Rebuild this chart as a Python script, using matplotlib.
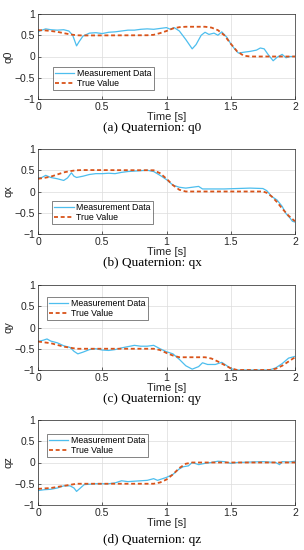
import matplotlib
matplotlib.use("Agg")
import matplotlib.pyplot as plt
import numpy as np

# ---- data ----
t_q0_meas = [0, 0.03, 0.06, 0.10, 0.15, 0.20, 0.24, 0.27, 0.30, 0.32, 0.35, 0.40, 0.45, 0.50, 0.55, 0.60, 0.65, 0.70, 0.75, 0.80, 0.85, 0.90, 0.95, 1.00, 1.03, 1.06, 1.10, 1.15, 1.20, 1.23, 1.27, 1.30, 1.33, 1.37, 1.40, 1.43, 1.47, 1.50, 1.53, 1.56, 1.60, 1.65, 1.70, 1.73, 1.76, 1.79, 1.83, 1.86, 1.90, 1.93, 1.96, 2.00]
q0_meas = [0.58, 0.62, 0.65, 0.63, 0.62, 0.63, 0.60, 0.50, 0.25, 0.35, 0.48, 0.55, 0.56, 0.54, 0.57, 0.58, 0.60, 0.62, 0.62, 0.64, 0.65, 0.64, 0.66, 0.68, 0.64, 0.68, 0.60, 0.40, 0.18, 0.28, 0.50, 0.57, 0.52, 0.55, 0.50, 0.58, 0.45, 0.30, 0.18, 0.08, 0.10, 0.12, 0.15, 0.20, 0.18, 0.05, -0.10, -0.02, 0.05, -0.03, 0.00, 0.00]
t_q0_true = [0, 0.05, 0.10, 0.15, 0.20, 0.25, 0.30, 0.35, 0.85, 0.90, 0.95, 1.00, 1.05, 1.10, 1.15, 1.30, 1.35, 1.40, 1.45, 1.50, 1.55, 1.60, 1.65, 2.00]
q0_true = [0.62, 0.615, 0.60, 0.58, 0.55, 0.52, 0.50, 0.495, 0.50, 0.51, 0.55, 0.60, 0.66, 0.69, 0.70, 0.70, 0.68, 0.62, 0.50, 0.30, 0.12, 0.02, 0.00, 0.00]

t_qx_meas = [0, 0.03, 0.06, 0.10, 0.15, 0.20, 0.23, 0.26, 0.28, 0.30, 0.35, 0.40, 0.45, 0.50, 0.55, 0.60, 0.65, 0.70, 0.75, 0.80, 0.85, 0.90, 0.95, 1.00, 1.05, 1.10, 1.15, 1.20, 1.25, 1.28, 1.35, 1.45, 1.55, 1.65, 1.75, 1.78, 1.82, 1.86, 1.90, 1.93, 1.96, 1.98, 2.00]
qx_meas = [0.32, 0.33, 0.38, 0.33, 0.30, 0.26, 0.32, 0.44, 0.36, 0.33, 0.36, 0.40, 0.42, 0.42, 0.43, 0.42, 0.45, 0.47, 0.48, 0.49, 0.50, 0.47, 0.38, 0.28, 0.15, 0.10, 0.08, 0.10, 0.12, 0.06, 0.06, 0.06, 0.07, 0.08, 0.07, 0.02, -0.12, -0.20, -0.35, -0.52, -0.62, -0.70, -0.72]
t_qx_true = [0, 0.05, 0.10, 0.15, 0.20, 0.25, 0.30, 0.35, 0.90, 0.95, 1.00, 1.05, 1.10, 1.15, 1.75, 1.78, 1.82, 1.86, 1.90, 1.95, 2.00]
qx_true = [0.30, 0.32, 0.35, 0.40, 0.45, 0.48, 0.50, 0.505, 0.50, 0.43, 0.30, 0.15, 0.04, 0.00, 0.00, -0.03, -0.12, -0.25, -0.40, -0.57, -0.70]

t_qy_meas = [0, 0.04, 0.07, 0.10, 0.15, 0.20, 0.25, 0.28, 0.31, 0.35, 0.40, 0.45, 0.50, 0.55, 0.60, 0.65, 0.70, 0.75, 0.80, 0.85, 0.90, 0.95, 1.00, 1.05, 1.10, 1.15, 1.20, 1.25, 1.28, 1.32, 1.38, 1.43, 1.47, 1.50, 1.55, 1.80, 1.85, 1.90, 1.95, 2.00]
qy_meas = [-0.33, -0.30, -0.27, -0.32, -0.36, -0.43, -0.47, -0.56, -0.62, -0.58, -0.52, -0.50, -0.53, -0.54, -0.52, -0.48, -0.45, -0.42, -0.44, -0.44, -0.42, -0.50, -0.57, -0.62, -0.75, -0.90, -0.98, -0.92, -0.83, -0.87, -0.87, -0.82, -0.90, -0.97, -1.00, -1.00, -0.95, -0.85, -0.72, -0.68]
t_qy_true = [0, 0.10, 0.20, 0.30, 0.90, 0.95, 1.00, 1.05, 1.10, 1.30, 1.35, 1.40, 1.45, 1.50, 1.55, 1.80, 1.85, 1.90, 1.95, 2.00]
qy_true = [-0.33, -0.37, -0.45, -0.50, -0.50, -0.53, -0.60, -0.66, -0.70, -0.70, -0.73, -0.80, -0.88, -0.96, -1.00, -1.00, -0.97, -0.90, -0.80, -0.70]

t_qz_meas = [0, 0.05, 0.10, 0.15, 0.20, 0.25, 0.28, 0.30, 0.33, 0.36, 0.45, 0.55, 0.60, 0.65, 0.70, 0.80, 0.85, 0.90, 0.93, 0.97, 1.00, 1.05, 1.10, 1.13, 1.17, 1.20, 1.25, 1.30, 1.35, 1.40, 1.45, 1.50, 1.55, 1.65, 1.75, 1.85, 1.88, 1.90, 1.95, 2.00]
qz_meas = [-0.66, -0.64, -0.63, -0.60, -0.55, -0.55, -0.60, -0.68, -0.60, -0.52, -0.50, -0.50, -0.48, -0.43, -0.45, -0.43, -0.42, -0.38, -0.42, -0.38, -0.35, -0.28, -0.15, -0.10, -0.08, 0.00, -0.05, -0.02, 0.00, 0.03, 0.02, -0.02, 0.00, 0.01, 0.02, 0.00, -0.05, 0.02, 0.01, 0.03]
t_qz_true = [0, 0.10, 0.20, 0.30, 0.90, 0.95, 1.00, 1.05, 1.10, 1.15, 1.20, 2.00]
qz_true = [-0.62, -0.60, -0.55, -0.50, -0.50, -0.47, -0.40, -0.28, -0.13, -0.03, 0.00, 0.00]

ylabels = ["q0", "qx", "qy", "qz"]
captions = ["(a) Quaternion: q0", "(b) Quaternion: qx", "(c) Quaternion: qy", "(d) Quaternion: qz"]
legend_labels = ["Measurement Data", "True Value"]
xticks = [0, 0.5, 1, 1.5, 2]
xticklabels = ["0", "0.5", "1", "1.5", "2"]
yticks = [-1, -0.5, 0, 0.5, 1]
yticklabels = ["\u22121", "\u22120.5", "0", "0.5", "1"]

series = [
    (t_q0_meas, q0_meas, t_q0_true, q0_true),
    (t_qx_meas, qx_meas, t_qx_true, qx_true),
    (t_qy_meas, qy_meas, t_qy_true, qy_true),
    (t_qz_meas, qz_meas, t_qz_true, qz_true),
]

W, H = 304, 550
fig = plt.figure(figsize=(W / 100, H / 100), dpi=100)
plt.rcParams['font.family'] = ['Liberation Sans', 'DejaVu Sans']

ax_bottom_px = [99, 234, 370, 505]
legend_tops = [0.376, 0.39, 0.86, 0.835]
legend_lefts = [0.058, 0.055, 0.035, 0.035]
caption_y_px = [128, 263, 399, 540]
blue = (0.30, 0.745, 0.933)
red = (0.85, 0.325, 0.098)

for i in range(4):
    ax = fig.add_axes([38 / W, 1 - ax_bottom_px[i] / H, 257 / W, 85 / H])
    tm, ym, tt, yt = series[i]
    ax.plot(tm, ym, color=blue, lw=0.9, label=legend_labels[0])
    ax.plot(tt, yt, color=red, lw=1.3, ls=(0, (2.2, 1.5)), label=legend_labels[1])
    ax.set_xlim(0, 2)
    ax.set_ylim(-1, 1)
    ax.set_xticks(xticks)
    ax.set_xticklabels(xticklabels)
    ax.set_yticks(yticks)
    ax.set_yticklabels(yticklabels)
    ax.tick_params(direction='in', labelsize=7.5, length=2.5, width=0.5, pad=2, colors='#262626')
    ax.grid(True, color='#dcdcdc', lw=0.5)
    for s in ax.spines.values():
        s.set_linewidth(0.5)
        s.set_color('#262626')
    ax.set_xlabel("Time [s]", fontsize=8, labelpad=0.5, color='#262626')
    ax.set_ylabel(ylabels[i], fontsize=8, labelpad=1, color='#262626')
    leg = ax.legend(loc='upper left', bbox_to_anchor=(legend_lefts[i], legend_tops[i]),
                    fontsize=6.3, frameon=True, fancybox=False, borderpad=0.25,
                    handlelength=2.2, handletextpad=0.3, labelspacing=0.1, borderaxespad=0)
    leg.get_frame().set_edgecolor('#262626')
    leg.get_frame().set_linewidth(0.5)
    fig.text(0.5, 1 - caption_y_px[i] / H, captions[i], ha='center', va='center',
             fontsize=9.5, family=['Liberation Serif', 'DejaVu Serif'])

fig.savefig("out.png", dpi=100)
